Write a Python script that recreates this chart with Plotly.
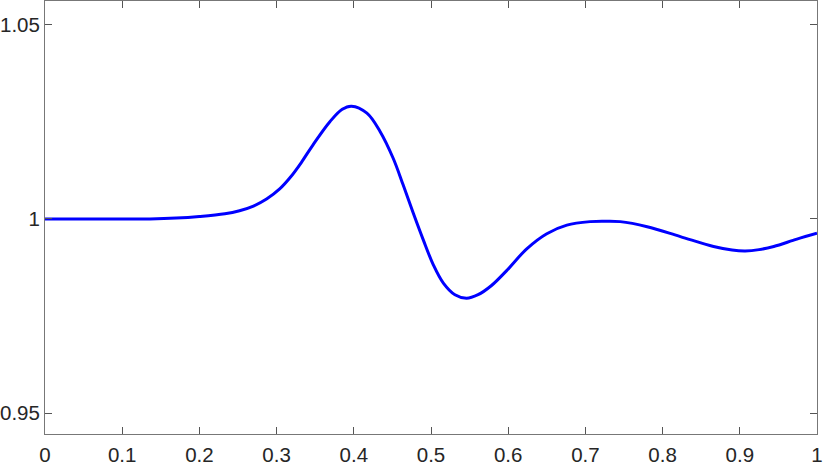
import plotly.graph_objects as go

x_vals = [0, 0.05, 0.1, 0.136, 0.17, 0.2, 0.233, 0.252, 0.27, 0.287, 0.304, 0.317,
          0.332, 0.347, 0.369, 0.385, 0.397, 0.417, 0.434, 0.451, 0.464, 0.477, 0.49, 0.503,
          0.516, 0.531, 0.546, 0.561, 0.578, 0.598, 0.624, 0.65, 0.676, 0.706, 0.725,
          0.745, 0.78, 0.823, 0.866, 0.89, 0.907, 0.925, 0.944, 0.974, 1.0]
y_vals = [1.0, 1.0, 1.0, 1.0, 1.0002, 1.0006, 1.0013, 1.0021, 1.0033, 1.0051, 1.0077, 1.0105,
          1.0145, 1.0190, 1.0250, 1.0282, 1.0290, 1.0272, 1.0225, 1.0156, 1.0087, 1.0015, 0.9946, 0.9882,
          0.9835, 0.9805, 0.9796, 0.9805, 0.9828, 0.9867, 0.9923, 0.9962, 0.9984, 0.9993, 0.9994,
          0.9993, 0.9980, 0.99545, 0.9929, 0.9920, 0.99177, 0.9921, 0.9929, 0.9948, 0.9963]

x_ticks = [0, 0.1, 0.2, 0.3, 0.4, 0.5, 0.6, 0.7, 0.8, 0.9, 1]
x_tick_labels = ["0", "0.1", "0.2", "0.3", "0.4", "0.5", "0.6", "0.7", "0.8", "0.9", "1"]
y_ticks = [0.95, 1.0, 1.05]
y_tick_labels = ["0.95", "1", "1.05"]

fig = go.Figure()
fig.add_trace(go.Scatter(x=x_vals, y=y_vals, mode="lines",
                         line=dict(color="#0000ff", width=3, shape="spline", smoothing=1.0),
                         showlegend=False, hoverinfo="skip"))

axis_common = dict(showgrid=False, zeroline=False, showline=True, linecolor="#777777",
                   linewidth=1, mirror="ticks", ticks="inside", ticklen=7,
                   tickcolor="#555555", tickwidth=1, automargin=False,
                   tickfont=dict(family="Liberation Sans, Arial, sans-serif", size=20.5, color="#262626"))

fig.update_layout(
    width=830, height=467,
    margin=dict(l=45, r=13, t=1, b=33),
    paper_bgcolor="white", plot_bgcolor="white",
    xaxis=dict(range=[0, 1], tickvals=x_ticks, ticktext=x_tick_labels, ticklabelstandoff=2, **axis_common),
    yaxis=dict(range=[0.94468, 1.05604], tickvals=y_ticks, ticktext=y_tick_labels, **axis_common),
)
fig.write_html("out.html", config={"displayModeBar": False},
               post_script="document.body.style.margin='0';document.body.style.overflow='hidden';")
